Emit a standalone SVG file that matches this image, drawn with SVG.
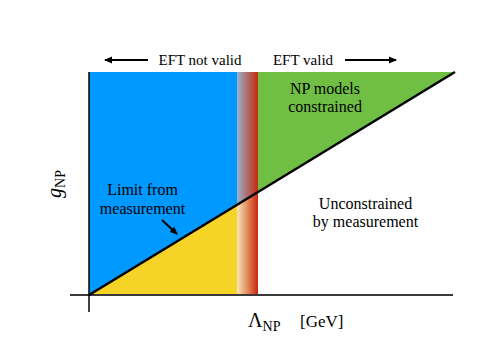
<svg xmlns="http://www.w3.org/2000/svg" width="498" height="352" viewBox="0 0 498 352">
<style>
text{font-family:'Liberation Serif','Times New Roman',serif;fill:#000}
.t15{font-size:15px}
.t16{font-size:16px}
.arr{stroke:#000;stroke-width:2;fill:none}
</style>
<defs>
<marker id="ah" markerWidth="8" markerHeight="8" refX="7" refY="4" orient="auto" markerUnits="userSpaceOnUse">
<path d="M0,0.5 L8,4 L0,7.5 Z" fill="#000"/>
</marker>
<linearGradient id="gTop" x1="0" y1="0" x2="1" y2="0">
<stop offset="0" stop-color="#98b4cc"/>
<stop offset="0.5" stop-color="#b06a6c"/>
<stop offset="1" stop-color="#c8280e"/>
</linearGradient>
<linearGradient id="gBot" x1="0" y1="0" x2="1" y2="0">
<stop offset="0" stop-color="#f8e6bc"/>
<stop offset="0.5" stop-color="#e28a5c"/>
<stop offset="1" stop-color="#c8280e"/>
</linearGradient>
</defs>
<rect width="498" height="352" fill="#fff"/>
<g id="regions">
<polygon id="blue" points="89,72 237,72 237,204.8 89,295" fill="#0099ff"/>
<polygon id="yellow" points="89,295 237,204.8 237,295" fill="#f5d327"/>
<polygon id="bandTop" points="237,72 258,72 258,192 237,204.8" fill="url(#gTop)"/>
<polygon id="bandBot" points="237,204.8 258,192 258,295 237,295" fill="url(#gBot)"/>
<polygon id="green" points="258,72 455,72 258,192" fill="#70bf44"/>
</g>
<g id="axes">
<line x1="70" y1="295" x2="453" y2="295" stroke="#3a3a3a" stroke-width="2"/>
<line x1="89" y1="72" x2="89" y2="312" stroke="#000" stroke-width="1.5"/>
</g>
<g id="limit-line">
<line x1="89" y1="295" x2="455" y2="72" stroke="#000" stroke-width="2.5"/>
</g>
<g id="labels">
<text class="t15" x="200" y="65" text-anchor="middle">EFT not valid</text>
<text class="t15" x="303" y="65" text-anchor="middle">EFT valid</text>
<text class="t16" x="325" y="94" text-anchor="middle">NP models</text>
<text class="t16" x="325" y="112" text-anchor="middle">constrained</text>
<text class="t16" x="142.5" y="195" text-anchor="middle">Limit from</text>
<text class="t16" x="142.5" y="214" text-anchor="middle">measurement</text>
<text class="t16" x="365.5" y="209" text-anchor="middle">Unconstrained</text>
<text class="t16" x="365.5" y="227" text-anchor="middle">by measurement</text>
<text transform="translate(61,184) rotate(-90)" text-anchor="middle"><tspan font-size="20" font-style="italic">g</tspan><tspan font-size="14" dy="4">NP</tspan></text>
<text x="248" y="327"><tspan font-size="20">Λ</tspan><tspan font-size="14" dy="4">NP</tspan><tspan font-size="17" dy="-4" x="300">[GeV]</tspan></text>
</g>
<g id="connectors">
<line class="arr" x1="148" y1="60" x2="105" y2="60" marker-end="url(#ah)"/>
<line class="arr" x1="345" y1="60" x2="396" y2="60" marker-end="url(#ah)"/>
<line class="arr" x1="162" y1="220" x2="177" y2="234" marker-end="url(#ah)"/>
</g>
</svg>
